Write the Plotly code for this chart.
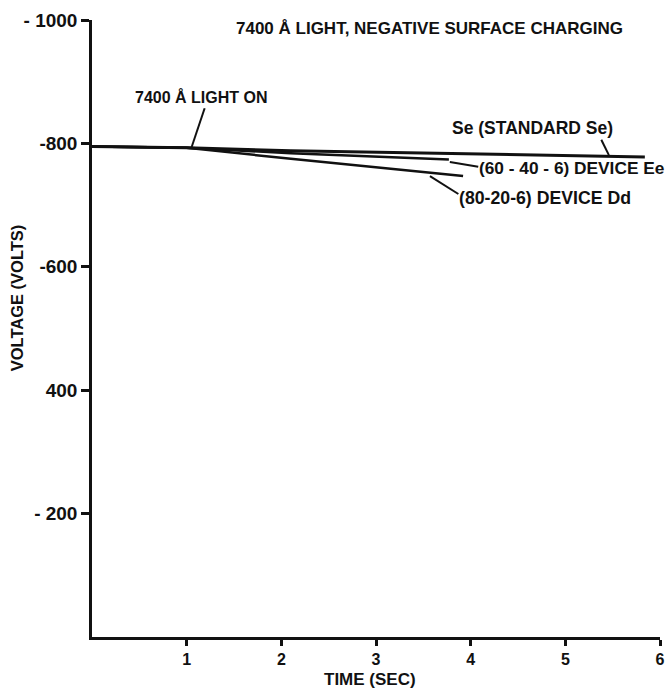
import plotly.graph_objects as go

# Data (time in s, voltage in V)
se_time = [0.0, 1.0, 2.1, 4.2, 5.84]
se_volts = [-795, -793, -788, -783, -778]

ee_time = [0.0, 1.0, 2.1, 3.77]
ee_volts = [-795, -793, -784, -774]

dd_time = [0.0, 1.0, 2.1, 3.92]
dd_volts = [-795, -793, -775, -747]

x_ticks = [1, 2, 3, 4, 5, 6]
y_tickvals = [-1000, -800, -600, -400, -200]
y_ticktext = ["- 1000", "-800", "-600", "400", "- 200"]

FONT = "Liberation Sans"
INK = "#111111"

fig = go.Figure()
for t, v, w in [(se_time, se_volts, 3), (ee_time, ee_volts, 2.5), (dd_time, dd_volts, 2.5)]:
    fig.add_trace(go.Scatter(x=t, y=v, mode="lines",
                             line=dict(color=INK, width=w), showlegend=False,
                             hoverinfo="skip"))

def label(x, y, text, anchor="left", size=16):
    fig.add_annotation(x=x, y=y, xref="x", yref="y", text=text, showarrow=False,
                       xanchor=anchor, yanchor="middle",
                       font=dict(family=FONT, size=size, color=INK, weight="bold"))

def leader(x0, y0, x1, y1):
    fig.add_shape(type="line", xref="x", yref="y", x0=x0, y0=y0, x1=x1, y1=y1,
                  line=dict(color=INK, width=2))

label(3.57, -987, "7400 Å LIGHT, NEGATIVE SURFACE CHARGING", anchor="center", size=17)
label(0.43, -875, "7400 Å LIGHT ON")
leader(1.19, -857, 1.05, -793)
label(3.78, -825, "Se (STANDARD Se)", size=17.5)
leader(5.38, -806, 5.46, -781)
label(4.07, -760, "(60 - 40 - 6) DEVICE Ee", size=17.3)
leader(3.78, -770, 4.08, -762)
label(3.86, -711, "(80-20-6) DEVICE Dd", size=17.7)
leader(3.57, -747, 3.87, -718)

# axis titles as free text, placed where the original lettering sits
fig.add_annotation(x=-0.132, y=-549, xref="paper", yref="y", text="VOLTAGE (VOLTS)",
                   showarrow=False, textangle=-90, xanchor="center", yanchor="middle",
                   font=dict(family=FONT, size=16.5, color=INK, weight="bold"))
fig.add_annotation(x=0.49, y=-0.0859, xref="paper", yref="paper", text="TIME (SEC)",
                   showarrow=False, xanchor="center", yanchor="bottom", borderpad=0,
                   font=dict(family=FONT, size=17, color=INK, weight="bold"))

fig.update_layout(
    width=670, height=690,
    margin=dict(l=92, r=10, t=20, b=53),
    paper_bgcolor="white", plot_bgcolor="white",
    font=dict(family=FONT, color=INK, size=16),
    xaxis=dict(range=[0, 6], tickvals=x_ticks, ticktext=[str(v) for v in x_ticks],
               automargin=False,
               showgrid=False, zeroline=False, showline=True, linecolor=INK,
               linewidth=2.5, ticks="outside", ticklen=6, tickwidth=2.5,
               tickcolor=INK,
               tickfont=dict(family=FONT, size=16, color=INK, weight="bold")),
    yaxis=dict(range=[0, -1000], tickvals=y_tickvals, ticktext=y_ticktext,
               automargin=False,
               showgrid=False, zeroline=False, showline=True, linecolor=INK,
               linewidth=2.5, ticks="outside", ticklen=8, tickwidth=2.5,
               tickcolor=INK,
               tickfont=dict(family=FONT, size=19, color=INK, weight="bold")),
)

fig.write_html("out.html", config={"displayModeBar": False},
               post_script="document.body.style.margin='0px';document.body.style.overflow='hidden';")
